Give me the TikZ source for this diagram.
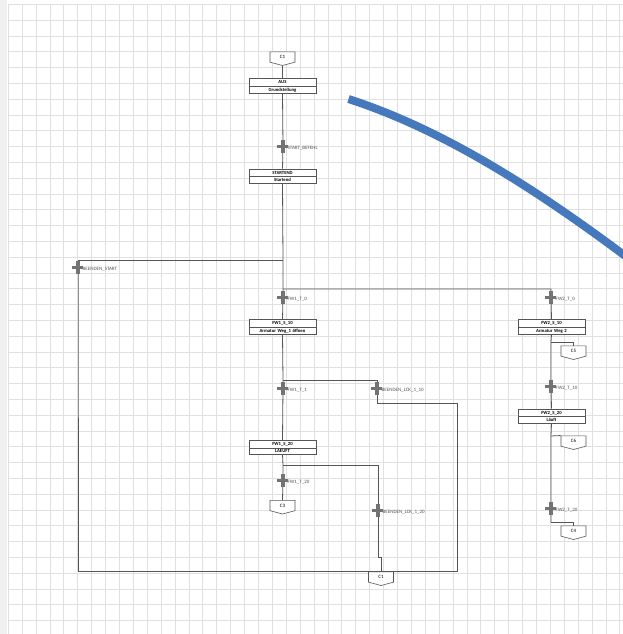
\documentclass[tikz,border=0pt]{standalone}
\usepackage{fontspec}
\setmainfont{Carlito}
\usetikzlibrary{shapes.multipart,shapes.symbols}
\definecolor{gridc}{RGB}{224,224,224}
\definecolor{linec}{RGB}{85,85,85}
\definecolor{crossc}{RGB}{115,115,115}
\definecolor{arcblue}{RGB}{70,121,187}
\newcommand{\stxt}{\fontsize{4.7}{5}\selectfont\bfseries}
\newcommand{\ltxt}{\fontsize{5}{5.5}\selectfont}
\newcommand{\mytrans}[4]{%
  \coordinate (#1) at (#2,#3);
  \node[translabel] (#1-l) at ([xshift=4.5pt,yshift=-1.8pt]#1) {#4};}
\newcommand{\mycross}[1]{%
  \draw[crossbar] ([xshift=-6pt]#1) -- ([xshift=5pt]#1);
  \draw[crossbar, line width=3.4pt] ([yshift=6.5pt]#1) -- ([yshift=-7pt]#1);}
\begin{document}
\begin{tikzpicture}[x=1pt,y=-1pt,
  flow/.style={draw=linec, line width=0.8pt},
  stepbox/.style={rectangle split, rectangle split parts=2, draw=linec, line width=0.6pt, fill=white, text width=64pt, align=center, inner xsep=1.5pt, inner ysep=1.2pt, font=\stxt, text height=3.6pt, text depth=1.2pt},
  conn/.style={signal, signal to=south, signal from=nowhere, signal pointer angle=150, draw=linec, line width=0.6pt, fill=white, minimum width=25pt, minimum height=11pt, inner sep=0pt, font=\ltxt},
  translabel/.style={anchor=west, font=\ltxt, text=linec, inner sep=0pt},
  crossbar/.style={draw=crossc, line width=3pt}
]
\useasboundingbox (0,0) rectangle (623,634);
\clip (0,0) rectangle (623,634);
\fill[white] (0,0) rectangle (623,634);
\fill[black!6] (0,0) rectangle (7,634);
\foreach \i in {0,...,44} \draw[gridc, line width=0.5pt] ({8.1+13.9*\i},4.3) -- ({8.1+13.9*\i},634);
\foreach \j in {0,...,39} \draw[gridc, line width=0.5pt] (8.1,{4.3+15.8*\j}) -- (623,{4.3+15.8*\j});

% steps and connectors
\node[conn] (c1top) at (282.5,57) {C1};
\node[stepbox] (aus) at (282.5,86) {AUS\nodepart{two}Grundstellung};
\node[stepbox] (startend) at (282.5,176) {STARTEND\nodepart{two}Startend};
\node[stepbox] (fw1s10) at (282.5,327) {FW1\_S\_10\nodepart{two}Armatur Weg\_1 öffnen};
\node[stepbox] (fw2s10) at (551.5,327) {FW2\_S\_10\nodepart{two}Armatur Weg 2};
\node[stepbox] (fw1s20) at (282.5,447) {FW1\_S\_20\nodepart{two}LAEUFT};
\node[stepbox] (fw2s20) at (551.5,416) {FW2\_S\_20\nodepart{two}Läuft};
\node[conn] (c5) at (573.5,351) {C5};
\node[conn] (c6) at (573.5,441) {C6};
\node[conn] (c4) at (573.5,531) {C4};
\node[conn] (c3) at (282.5,505.5) {C3};
\node[conn] (c1bot) at (381,577) {C1};

% transitions
\mytrans{tStart}{283}{146}{START\_BEFEHL}
\mytrans{tBeenden}{78}{267}{BEENDEN\_START}
\mytrans{tfw1t0}{283}{297}{FW1\_T\_0}
\mytrans{tfw2t0}{551}{297}{FW2\_T\_0}
\mytrans{tfw1t1}{283}{388}{FW1\_T\_1}
\mytrans{tlck10}{377}{388}{BEENDEN\_LCK\_1\_10}
\mytrans{tfw2t10}{551}{386}{FW2\_T\_10}
\mytrans{tfw1t20}{283}{480}{FW1\_T\_20}
\mytrans{tlck20}{378}{510}{BEENDEN\_LCK\_1\_20}
\mytrans{tfw2t20}{551}{508}{FW2\_T\_20}

% helper coordinates
\coordinate (j1) at (283,260);
\coordinate (j2) at (283,289);
\coordinate (b1) at (283,380);
\coordinate (k1) at (457,403);
\coordinate (b2) at (283,465);
\coordinate (k2) at (378,557);
\coordinate (f5) at (551,342);
\coordinate (f6) at (551,436);
\coordinate (f4) at (551,522);

% flow lines
\draw[flow] (c1top.south) -- (aus.north);
\draw[flow] (aus.south) -- (tStart) -- (startend.north);
\draw[flow] (startend.south) -- (j1) -- (j2) -- (tfw1t0) -- (fw1s10.north);
\draw[flow] (fw1s10.south) -- (b1) -- (tfw1t1) -- (fw1s20.north);
\draw[flow] (fw1s20.south) -- (b2) -- (tfw1t20) -- (c3.north);
\draw[flow] (j1) -| (tBeenden) |- (c1bot.north);
\draw[flow] (b1) -| (tlck10);
\draw[flow] (tlck10) |- (k1) |- (c1bot.north);
\draw[flow] (b2) -| (tlck20);
\draw[flow] (tlck20) -- (k2) -- ++(3,0) -- (c1bot.north);
\draw[flow] (j2) -| (tfw2t0) -- (fw2s10.north);
\draw[flow] (fw2s10.south) -- (f5) -- (tfw2t10) -- (fw2s20.north);
\draw[flow] (fw2s20.south) -- (f6) -- (tfw2t20) -- (f4);
\draw[flow] (f5) -| (c5.north);
\draw[flow] (f6) -- (c6.north west);
\draw[flow] (f4) -| (c4.north);

% transition crosses
\foreach \t in {tStart,tBeenden,tfw1t0,tfw2t0,tfw1t1,tlck10,tfw2t10,tfw1t20,tlck20,tfw2t20} {\mycross{\t}}

% blue arc
\draw[arcblue, line width=8pt] (348.5,99) .. controls (441,129) and (532,186) .. (628,258);
\end{tikzpicture}
\end{document}
